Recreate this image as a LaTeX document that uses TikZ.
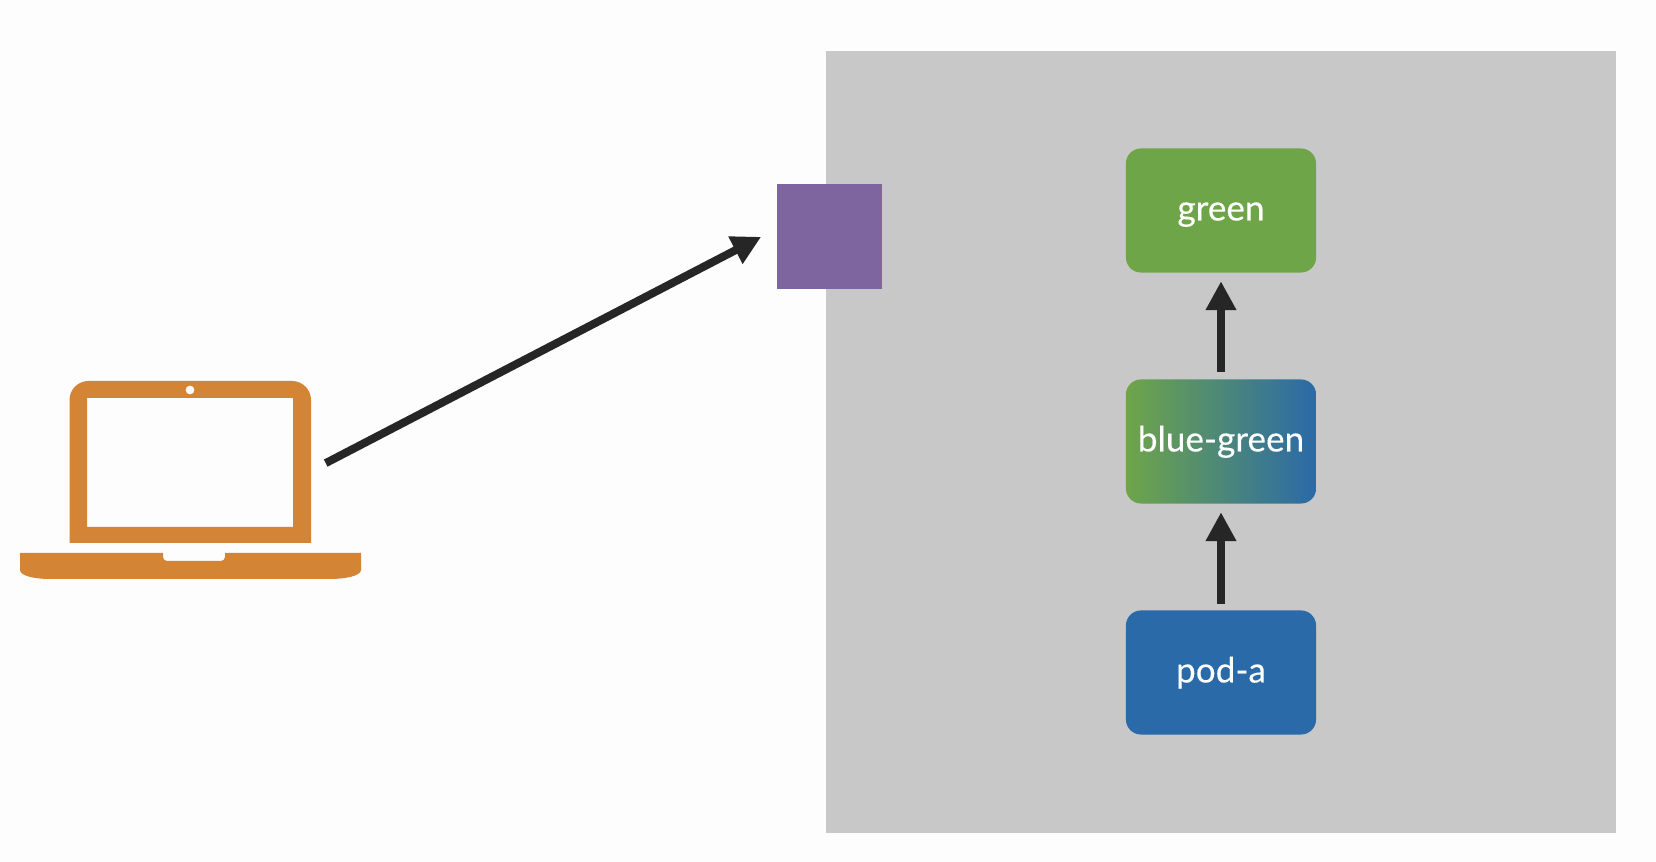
\documentclass[tikz,border=0pt]{standalone}
\usepackage{fontspec}
\setmainfont[FakeBold=0.2]{Lato}
\usetikzlibrary{arrows.meta}
\definecolor{boxgreen}{HTML}{6FA549}
\definecolor{boxblue}{HTML}{2A6AA8}
\definecolor{panelgray}{HTML}{C8C8C8}
\definecolor{lbpurple}{HTML}{7F659F}
\definecolor{laptoporange}{HTML}{D38434}
\definecolor{arrowdark}{HTML}{262626}
\definecolor{paperwhite}{HTML}{FDFDFD}
\begin{document}
\begin{tikzpicture}[x=0.01cm,y=-0.01cm,
  podbox/.style={shape=rectangle,rounded corners=0.15cm,minimum width=1.9cm,minimum height=1.24cm,inner sep=0pt,text=white,text height=0.27cm,text depth=0.07cm,font=\fontsize{10}{12}\selectfont},
  flow/.style={draw=arrowdark,line width=0.08cm,-{Triangle[length=0.29cm,width=0.29cm]}}]
\fill[paperwhite] (0,0) rectangle (1656,862);
\draw (1221,442) node[shape=rectangle,fill=panelgray,minimum width=7.9cm,minimum height=7.82cm,inner sep=0pt] (panel) {};
\draw (829.5,236.5) node[shape=rectangle,fill=lbpurple,minimum size=1.05cm,inner sep=0pt] (lb) {};
\draw (1221,210.5) node[podbox,fill=boxgreen] (g) {green};
\draw (1221,441.5) node[podbox,left color=boxgreen,right color=boxblue] (bg) {blue-green};
\draw (1221,672.5) node[podbox,fill=boxblue] (p) {pod-a};
\draw (190,462) node[shape=rectangle,minimum width=2.415cm,minimum height=1.62cm,inner sep=0pt] (laptop) {};
\fill[laptoporange,even odd rule] (69.5,543) -- (69.5,400) arc (180:270:19) -- (292,381) arc (270:360:19) -- (311,543) -- cycle
  (87,398) rectangle (293,527)
  (190,390) circle (4.5);
\fill[laptoporange] (20,553) -- (163,553) -- (163,557) arc (180:90:4) -- (221,561) arc (90:0:4) -- (225,553) -- (361,553) -- (361,570) .. controls (361,576) and (345,579) .. (330,579) -- (50,579) .. controls (35,579) and (20,576) .. (20,570) -- cycle;
\draw[flow,shorten <=0.16cm,shorten >=0.17cm] (laptop.-4.3) -- (lb.172);
\draw[flow,shorten <=0.07cm,shorten >=0.08cm] (bg) -- (g);
\draw[flow,shorten <=0.06cm,shorten >=0.08cm] (p) -- (bg);
\end{tikzpicture}
\end{document}
